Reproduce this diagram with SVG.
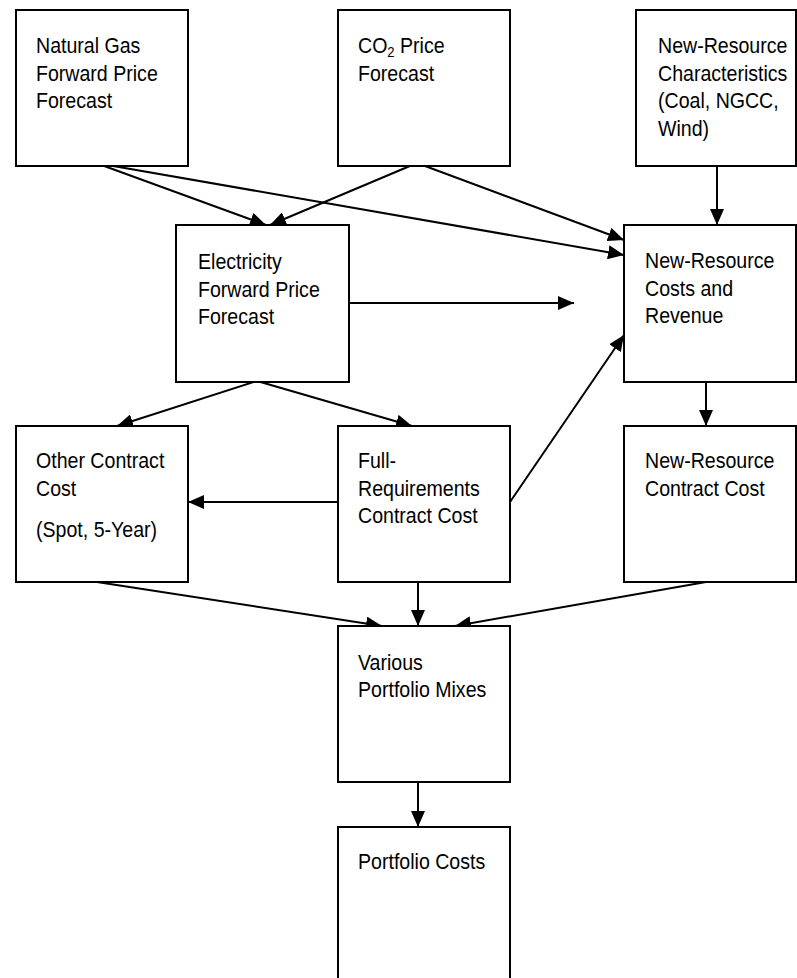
<svg xmlns="http://www.w3.org/2000/svg" width="797" height="978" viewBox="0 0 797 978">
<defs>
<marker id="ah" markerUnits="userSpaceOnUse" markerWidth="16" markerHeight="14" refX="16" refY="7" orient="auto">
<path d="M0,0 L16,7 L0,14 z" fill="#000"/>
</marker>
<style>
rect{fill:#fff;stroke:#000;stroke-width:2}
text{font-family:"Liberation Sans",Arial,sans-serif;font-size:22.5px;fill:#000}
#connectors line{stroke:#000;stroke-width:2;marker-end:url(#ah)}
</style>
</defs>
<rect x="0" y="0" width="797" height="978" style="fill:#fff;stroke:none"/>
<g id="connectors">
<line x1="96" y1="163" x2="266" y2="225"/>
<line x1="417" y1="163" x2="270" y2="225"/>
<line x1="96" y1="163" x2="624" y2="255"/>
<line x1="417" y1="163" x2="624" y2="240"/>
<line x1="717" y1="166" x2="717" y2="225"/>
<line x1="349" y1="303" x2="574" y2="303"/>
<line x1="257" y1="381" x2="117" y2="426"/>
<line x1="257" y1="381" x2="412" y2="426"/>
<line x1="338" y1="502" x2="188" y2="502"/>
<line x1="510" y1="502" x2="624" y2="335"/>
<line x1="706" y1="382" x2="706" y2="426"/>
<line x1="97" y1="582" x2="382" y2="626"/>
<line x1="418" y1="582" x2="418" y2="626"/>
<line x1="706" y1="582" x2="455" y2="626"/>
<line x1="418" y1="782" x2="418" y2="827"/>
</g>
<g id="natural-gas">
<rect x="16" y="10" width="172" height="156"/>
<text transform="matrix(0.87 0 0 1 36 0)"><tspan x="0" y="53">Natural Gas</tspan><tspan x="0" y="80.6">Forward Price</tspan><tspan x="0" y="108.2">Forecast</tspan></text>
</g>
<g id="co2-price">
<rect x="338" y="10" width="172" height="156"/>
<text transform="matrix(0.87 0 0 1 358 0)"><tspan x="0" y="53">CO</tspan><tspan font-size="15" dy="4">2</tspan><tspan dy="-4"> Price</tspan><tspan x="0" y="80.6">Forecast</tspan></text>
</g>
<g id="new-resource-characteristics">
<rect x="636" y="10" width="160" height="156"/>
<text transform="matrix(0.87 0 0 1 658 0)"><tspan x="0" y="53">New-Resource</tspan><tspan x="0" y="80.6">Characteristics</tspan><tspan x="0" y="108.2">(Coal, NGCC,</tspan><tspan x="0" y="135.8">Wind)</tspan></text>
</g>
<g id="electricity">
<rect x="176" y="225" width="173" height="157"/>
<text transform="matrix(0.87 0 0 1 198 0)"><tspan x="0" y="269">Electricity</tspan><tspan x="0" y="296.6">Forward Price</tspan><tspan x="0" y="324.2">Forecast</tspan></text>
</g>
<g id="new-resource-costs">
<rect x="624" y="225" width="172" height="157"/>
<text transform="matrix(0.87 0 0 1 645 0)"><tspan x="0" y="268.5">New-Resource</tspan><tspan x="0" y="296">Costs and</tspan><tspan x="0" y="323.5">Revenue</tspan></text>
</g>
<g id="other-contract">
<rect x="16" y="426" width="172" height="156"/>
<text transform="matrix(0.87 0 0 1 36 0)"><tspan x="0" y="468.3">Other Contract</tspan><tspan x="0" y="496">Cost</tspan><tspan x="0" y="537">(Spot, 5-Year)</tspan></text>
</g>
<g id="full-requirements">
<rect x="338" y="426" width="172" height="156"/>
<text transform="matrix(0.87 0 0 1 358 0)"><tspan x="0" y="468.3">Full-</tspan><tspan x="0" y="496">Requirements</tspan><tspan x="0" y="523.5">Contract Cost</tspan></text>
</g>
<g id="new-resource-contract">
<rect x="624" y="426" width="172" height="156"/>
<text transform="matrix(0.87 0 0 1 645 0)"><tspan x="0" y="468.3">New-Resource</tspan><tspan x="0" y="496">Contract Cost</tspan></text>
</g>
<g id="various-portfolio">
<rect x="338" y="626" width="172" height="156"/>
<text transform="matrix(0.87 0 0 1 358 0)"><tspan x="0" y="670">Various</tspan><tspan x="0" y="697.5">Portfolio Mixes</tspan></text>
</g>
<g id="portfolio-costs">
<rect x="338" y="827" width="172" height="160"/>
<text transform="matrix(0.87 0 0 1 358 0)"><tspan x="0" y="869.3">Portfolio Costs</tspan></text>
</g>
</svg>
